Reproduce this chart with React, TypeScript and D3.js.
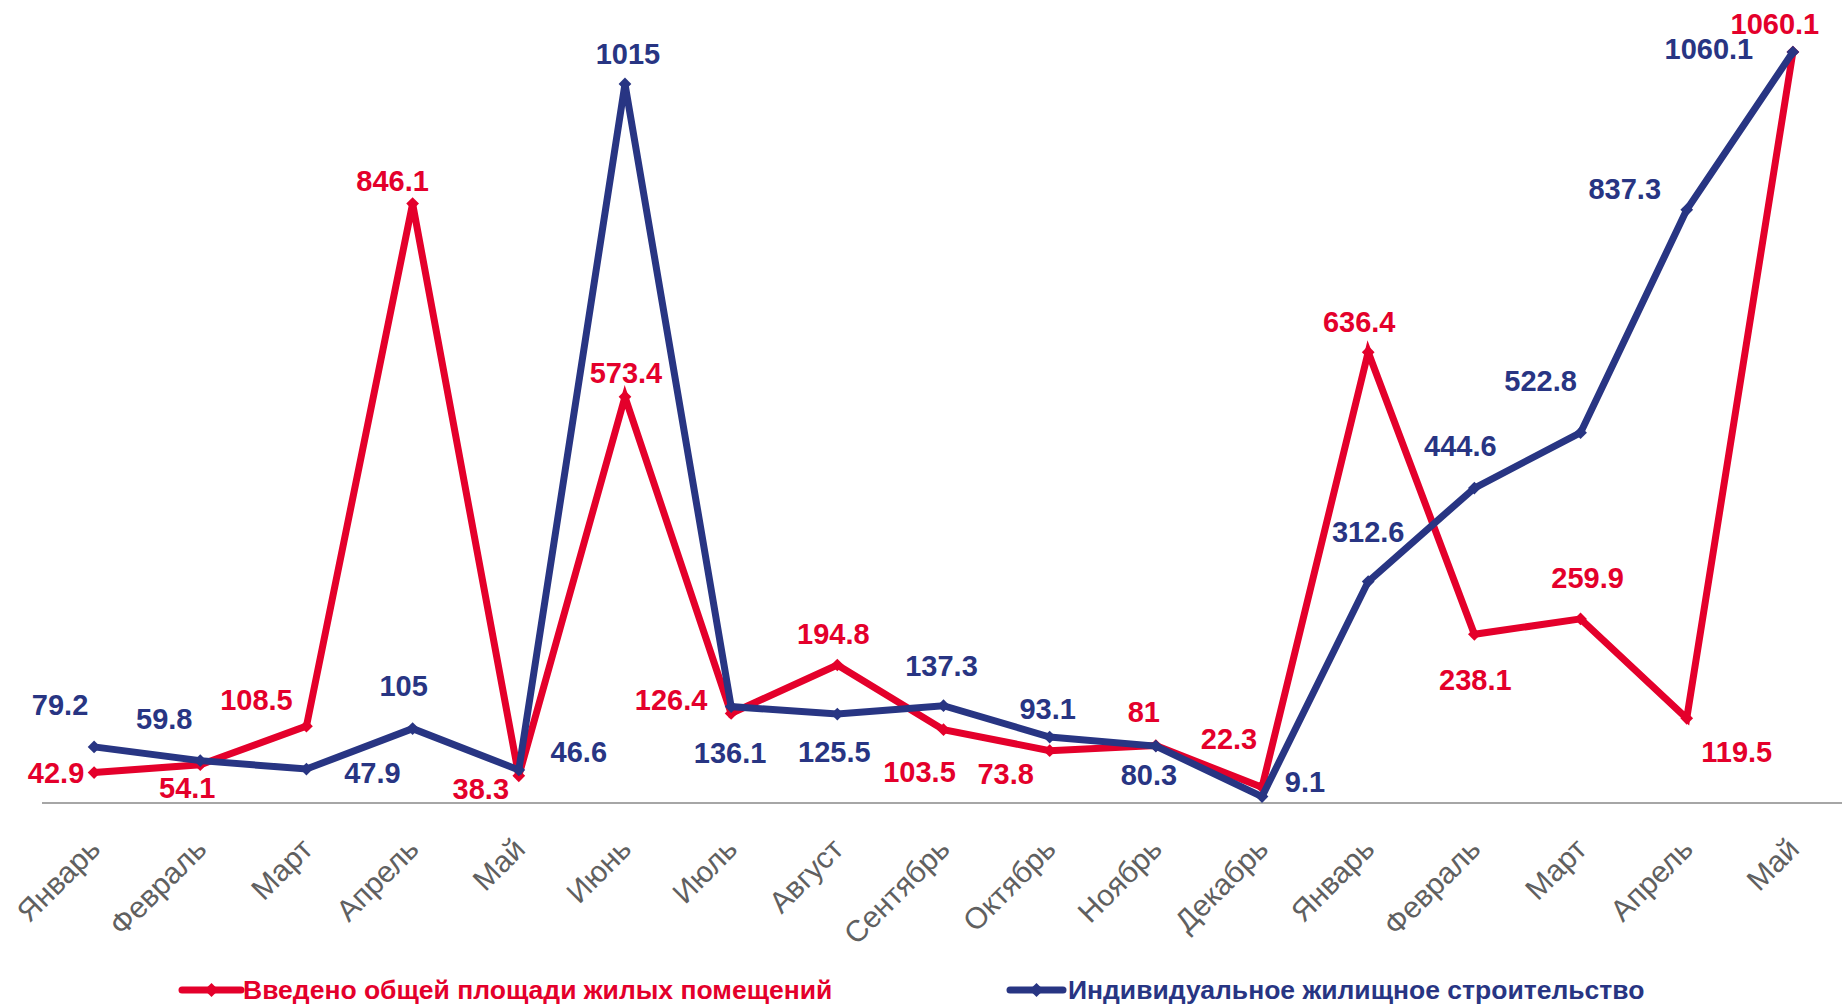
import React, { useRef, useEffect } from 'react';
import * as d3 from 'd3';

const months = [
  'Январь', 'Февраль', 'Март', 'Апрель', 'Май', 'Июнь', 'Июль', 'Август',
  'Сентябрь', 'Октябрь', 'Ноябрь', 'Декабрь', 'Январь', 'Февраль', 'Март', 'Апрель', 'Май',
];

const totalArea = [
  42.9, 54.1, 108.5, 846.1, 38.3, 573.4, 126.4, 194.8, 103.5, 73.8, 81, 22.3,
  636.4, 238.1, 259.9, 119.5, 1060.1,
];

const individual = [
  79.2, 59.8, 47.9, 105, 46.6, 1015, 136.1, 125.5, 137.3, 93.1, 80.3, 9.1,
  312.6, 444.6, 522.8, 837.3, 1060.1,
];

const seriesNames = [
  'Введено общей площади жилых помещений',
  'Индивидуальное жилищное строительство',
];

// label offsets from the point (dx, dy), the way they sit in the original
const redLabelOffsets: [number, number][] = [
  [-38, 0], [-13, 23], [-50, -26], [-20, -23], [-38, 13], [1, -24], [-60, -13], [-4, -31],
  [-24, 42], [-44, 23], [-12, -34], [-33, -48], [-9, -30], [1, 46], [7, -41], [50, 34], [-18, -28],
];
const blueLabelOffsets: [number, number][] = [
  [-34, -42], [-36, -42], [66, 4], [-9, -43], [60, -18], [3, -30], [-1, 46], [-3, 38],
  [-2, -40], [-2, -28], [-7, 29], [43, -15], [0, -50], [-14, -42], [-40, -52], [-62, -21], [-84, -3],
];

const RED = '#e4002b';
const BLUE = '#283583';
const FONT = '"Liberation Sans", Arial, sans-serif';

const App: React.FC = () => {
  const svgRef = useRef<SVGSVGElement>(null);
  const width = 1842;
  const height = 1004;

  useEffect(() => {
    if (!svgRef.current) return;
    const svg = d3.select(svgRef.current);
    svg.selectAll('*').remove();

    const idx = months.map((_, i) => i);
    const x = d3.scaleBand<number>().domain(idx).range([41, 1846]);
    const cx = (i: number) => (x(i) as number) + x.bandwidth() / 2;
    const y = d3.scaleLinear().domain([0, 1060.1]).range([803, 52]);

    // axis line
    svg
      .append('line')
      .attr('x1', 42)
      .attr('x2', width)
      .attr('y1', y(0))
      .attr('y2', y(0))
      .attr('stroke', '#a6a6a6')
      .attr('stroke-width', 2);

    // category labels
    svg
      .append('g')
      .selectAll('text')
      .data(months)
      .enter()
      .append('text')
      .attr('transform', (_, i) => `translate(${cx(i) + 8},${851}) rotate(-45)`)
      .attr('text-anchor', 'end')
      .attr('font-family', FONT)
      .attr('font-size', 30)
      .attr('fill', '#606060')
      .text((d) => d);

    const line = d3
      .line<number>()
      .x((_, i) => cx(i))
      .y((d) => y(d));

    const drawSeries = (values: number[], color: string) => {
      const g = svg.append('g');
      g.append('path')
        .datum(values)
        .attr('d', line)
        .attr('fill', 'none')
        .attr('stroke', color)
        .attr('stroke-width', 7)
        .attr('stroke-linejoin', 'miter');
      g.selectAll('rect')
        .data(values)
        .enter()
        .append('rect')
        .attr('x', -4.5)
        .attr('y', -4.5)
        .attr('width', 9)
        .attr('height', 9)
        .attr('fill', color)
        .attr('transform', (d, i) => `translate(${cx(i)},${y(d)}) rotate(45)`);
    };

    drawSeries(totalArea, RED);
    drawSeries(individual, BLUE);

    const drawLabels = (values: number[], offsets: [number, number][], color: string) => {
      svg
        .append('g')
        .selectAll('text')
        .data(values)
        .enter()
        .append('text')
        .attr('x', (_, i) => cx(i) + offsets[i][0])
        .attr('y', (d, i) => y(d) + offsets[i][1])
        .attr('text-anchor', 'middle')
        .attr('dominant-baseline', 'central')
        .attr('font-family', FONT)
        .attr('font-weight', 'bold')
        .attr('font-size', 29)
        .attr('fill', color)
        .text((d) => String(d));
    };

    drawLabels(totalArea, redLabelOffsets, RED);
    drawLabels(individual, blueLabelOffsets, BLUE);

    // legend
    const legendItems = [
      { name: seriesNames[0], color: RED, x1: 182, x2: 241, tx: 243 },
      { name: seriesNames[1], color: BLUE, x1: 1010, x2: 1063, tx: 1068 },
    ];
    const legend = svg
      .append('g')
      .selectAll('g')
      .data(legendItems)
      .enter()
      .append('g');
    legend
      .append('line')
      .attr('x1', (d) => d.x1)
      .attr('x2', (d) => d.x2)
      .attr('y1', 990)
      .attr('y2', 990)
      .attr('stroke', (d) => d.color)
      .attr('stroke-width', 7)
      .attr('stroke-linecap', 'round');
    legend
      .append('rect')
      .attr('x', -5)
      .attr('y', -5)
      .attr('width', 10)
      .attr('height', 10)
      .attr('fill', (d) => d.color)
      .attr('transform', (d) => `translate(${(d.x1 + d.x2) / 2},990) rotate(45)`);
    legend
      .append('text')
      .attr('x', (d) => d.tx)
      .attr('y', 990)
      .attr('dominant-baseline', 'central')
      .attr('font-family', FONT)
      .attr('font-weight', 'bold')
      .attr('font-size', 26.5)
      .attr('fill', (d) => d.color)
      .text((d) => d.name);
  }, []);

  return (
    <div style={{ position: 'absolute', left: 0, top: 0 }}>
      <svg ref={svgRef} width={width} height={height} style={{ display: 'block', background: '#fff' }} />
    </div>
  );
};

export default App;
